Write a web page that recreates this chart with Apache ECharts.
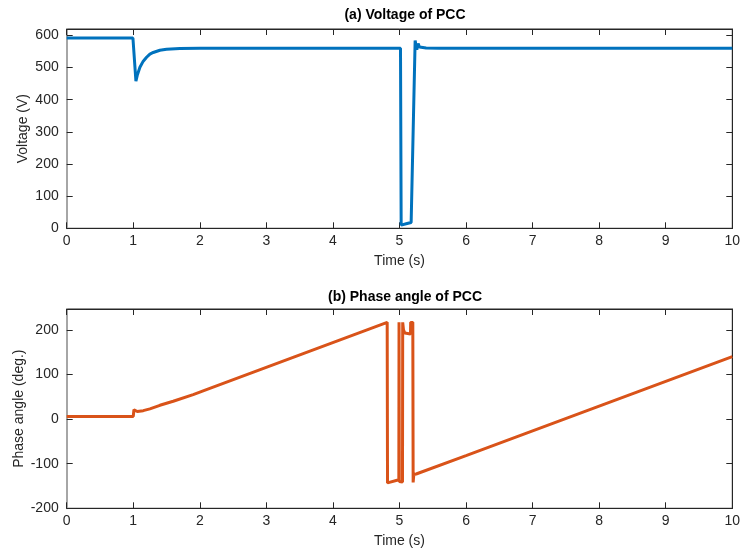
<!DOCTYPE html>
<html>
<head>
<meta charset="utf-8">
<script src="https://cdn.jsdelivr.net/npm/echarts@6/dist/echarts.min.js"></script>
<style>
  html, body { margin: 0; padding: 0; background: #fff; }
  #chart { width: 740px; height: 556px; }
</style>
</head>
<body>
<div id="chart"></div>
<script>
// PCC voltage magnitude (V) against time (s)
const voltageTime = [0, 0.995, 1.0, 1.04, 1.06, 1.1, 1.15, 1.2, 1.25, 1.3, 1.4, 1.5, 1.7, 2.0, 3.0, 5.015, 5.025, 5.1, 5.175, 5.2, 5.235, 5.26, 5.28, 5.3, 5.4, 5.6, 10];
const voltageValue = [592, 592, 590, 458, 476, 501, 520, 532, 542, 547, 554, 557, 559, 560, 560, 560, 10, 14, 18, 20, 584, 556, 575, 564, 561, 560, 560];

// PCC phase angle (deg.) against time (s)
const phaseTime = [0, 1.0, 1.01, 1.03, 1.06, 1.15, 1.25, 1.4, 1.6, 1.9, 2.15, 4.815, 4.82, 4.99, 4.993, 4.997, 5.02, 5.045, 5.048, 5.06, 5.08, 5.165, 5.168, 5.2, 5.205, 5.215, 5.25, 6.0, 10];
const phaseValue = [6, 6, 21, 19, 17, 19, 23, 31, 40, 55, 69, 217, -143, -136, 217, -140, -143, -141, 217, 200, 193, 191, 217, 217, -142, -124, -123, -82, 140];

// Axis ranges and tick step
const timeTicks = [0, 10, 1];
const voltageTicks = [0, 620, 100];
const phaseTicks = [-200, 247, 100];

const pair = (xs, ys) => xs.map((x, i) => [x, ys[i]]);

const FONT = '"Liberation Sans", Arial, sans-serif';
const DARK = '#262626';

function xAxisDef(gridIndex, bottom) {
  return {
    type: 'value', gridIndex,
    position: bottom ? 'bottom' : 'top',
    min: timeTicks[0], max: timeTicks[1], interval: timeTicks[2],
    name: bottom ? 'Time (s)' : '',
    nameLocation: 'middle', nameGap: 26,
    nameTextStyle: { fontFamily: FONT, fontSize: 14, color: DARK },
    axisLine: { show: true, onZero: false, lineStyle: { color: DARK, width: 1 } },
    axisTick: { show: true, inside: true, length: 6, lineStyle: { color: DARK } },
    axisLabel: { show: bottom, fontFamily: FONT, fontSize: 14, color: DARK, margin: 6 },
    splitLine: { show: false }
  };
}

function yAxisDef(gridIndex, left, ticks, name, gap) {
  return {
    type: 'value', gridIndex,
    position: left ? 'left' : 'right',
    min: ticks[0], max: ticks[1], interval: ticks[2],
    name: left ? name : '',
    nameLocation: 'middle', nameGap: gap,
    nameMoveOverlap: false,
    nameTextStyle: { fontFamily: FONT, fontSize: 14, color: DARK },
    axisLine: { show: true, onZero: false, lineStyle: { color: left ? '#a6a6a6' : DARK, width: left ? 2 : 1 } },
    axisTick: { show: true, inside: true, length: 6, lineStyle: { color: DARK } },
    axisLabel: {
      show: left, fontFamily: FONT, fontSize: 14, color: DARK, margin: 8,
      showMaxLabel: false,
      formatter: v => (v % 100 === 0 ? String(v) : '')
    },
    splitLine: { show: false }
  };
}

const chart = echarts.init(document.getElementById('chart'), null, { renderer: 'canvas' });
chart.setOption({
  animation: false,
  backgroundColor: '#ffffff',
  title: [
    { text: '(a) Voltage of PCC', left: 400, top: 3, textAlign: 'center',
      textStyle: { fontFamily: FONT, fontSize: 14, fontWeight: 'bold', color: '#000' } },
    { text: '(b) Phase angle of PCC', left: 400, top: 285, textAlign: 'center',
      textStyle: { fontFamily: FONT, fontSize: 14, fontWeight: 'bold', color: '#000' } }
  ],
  grid: [
    { left: 66.7, right: 7.7, top: 29, height: 199.3, show: true, borderColor: DARK, borderWidth: 1,
      containLabel: false, outerBoundsMode: 'none' },
    { left: 66.7, right: 7.7, top: 309, height: 199.3, show: true, borderColor: DARK, borderWidth: 1,
      containLabel: false, outerBoundsMode: 'none' }
  ],
  xAxis: [xAxisDef(0, true), xAxisDef(0, false), xAxisDef(1, true), xAxisDef(1, false)],
  yAxis: [
    yAxisDef(0, true, voltageTicks, 'Voltage (V)', 37), yAxisDef(0, false, voltageTicks, '', 0),
    yAxisDef(1, true, phaseTicks, 'Phase angle (deg.)', 41), yAxisDef(1, false, phaseTicks, '', 0)
  ],
  series: [
    { type: 'line', xAxisIndex: 0, yAxisIndex: 0, data: pair(voltageTime, voltageValue),
      showSymbol: false, lineStyle: { color: '#0072BD', width: 3 }, itemStyle: { color: '#0072BD' } },
    { type: 'line', xAxisIndex: 2, yAxisIndex: 2, data: pair(phaseTime, phaseValue),
      showSymbol: false, lineStyle: { color: '#D95319', width: 3 }, itemStyle: { color: '#D95319' } }
  ]
});
</script>
</body>
</html>
